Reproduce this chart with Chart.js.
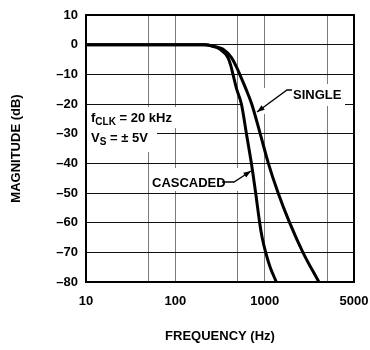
<!DOCTYPE html>
<html>
<head>
<meta charset="utf-8">
<script src="https://cdn.jsdelivr.net/npm/chart.js@4"></script>
<style>
  html, body { margin: 0; padding: 0; background: #fff; }
</style>
</head>
<body>
<canvas id="chart" width="370" height="350"></canvas>
<script>
const singleFreq = [10, 100, 214, 269, 340, 425, 474, 526, 618, 716, 891, 1100, 1415, 1902, 2679, 4044];
const singleMag = [0, 0, 0, -0.5, -1.5, -4.4, -7, -10, -15, -20, -30, -40, -50, -60, -70, -80];
const cascadedFreq = [10, 100, 214, 256, 314, 389, 417, 442, 486, 549, 625, 710, 793, 879, 937, 1026, 1152, 1351];
const cascadedMag = [0, 0, 0, -0.5, -1.5, -4.4, -7, -10, -15, -20, -30, -40, -50, -60, -65, -70, -75, -80];
const xTicks = [10, 50, 100, 500, 1000, 5000, 10000];
const xTickLabels = ["10", "", "100", "", "1000", "", "5000"];

const FONT = '"Liberation Sans", Arial, sans-serif';

const toPoints = (xs, ys) => xs.map((x, i) => ({ x: x, y: ys[i] }));

function arrow(ctx, pts) {
  ctx.beginPath();
  ctx.moveTo(pts[0][0], pts[0][1]);
  for (let i = 1; i < pts.length; i++) ctx.lineTo(pts[i][0], pts[i][1]);
  ctx.stroke();
  // arrow head at the last point
  const [x1, y1] = pts[pts.length - 2];
  const [x2, y2] = pts[pts.length - 1];
  const a = Math.atan2(y2 - y1, x2 - x1);
  ctx.beginPath();
  ctx.moveTo(x2, y2);
  ctx.lineTo(x2 - 8 * Math.cos(a - 0.35), y2 - 8 * Math.sin(a - 0.35));
  ctx.lineTo(x2 - 8 * Math.cos(a + 0.35), y2 - 8 * Math.sin(a + 0.35));
  ctx.closePath();
  ctx.fill();
}

// draws "main" then a lowered subscript, then the rest
function subText(ctx, x, y, main, sub, rest) {
  ctx.font = 'bold 13px ' + FONT;
  ctx.fillText(main, x, y);
  x += ctx.measureText(main).width;
  ctx.font = 'bold 10px ' + FONT;
  ctx.fillText(sub, x, y + 4);
  x += ctx.measureText(sub).width;
  ctx.font = 'bold 13px ' + FONT;
  ctx.fillText(rest, x, y);
}

const notes = {
  id: 'notes',
  beforeDatasetsDraw(chart) {
    const ctx = chart.ctx;
    ctx.save();
    ctx.fillStyle = '#fff';
    ctx.fillRect(87, 107, 97, 21);
    ctx.fillRect(87, 128, 70, 24);
    ctx.fillRect(283, 84, 62, 22);
    ctx.fillRect(240, 88, 50, 26);
    ctx.fillRect(150, 168, 104, 23);

    ctx.fillStyle = '#000';
    ctx.strokeStyle = '#000';
    ctx.lineWidth = 1.3;
    ctx.textBaseline = 'middle';
    ctx.textAlign = 'left';
    subText(ctx, 91, 118, 'f', 'CLK', ' = 20 kHz');
    subText(ctx, 91, 138, 'V', 'S', ' = \u00b1 5V');

    ctx.font = 'bold 13px ' + FONT;
    ctx.fillText('SINGLE', 293, 95);
    ctx.fillText('CASCADED', 152, 183);
    arrow(ctx, [[292, 90], [287, 90], [257, 112]]);
    arrow(ctx, [[222, 182], [234, 182], [251, 171]]);
    ctx.restore();
  },
  afterDraw(chart) {
    const { ctx, chartArea: a } = chart;
    ctx.save();
    ctx.strokeStyle = '#000';
    ctx.lineWidth = 2;
    ctx.strokeRect(a.left, a.top, a.right - a.left, a.bottom - a.top);
    ctx.restore();
  }
};

const chart = new Chart(document.getElementById('chart'), {
  type: 'line',
  plugins: [notes],
  data: {
    datasets: [
      { label: 'Single', data: toPoints(singleFreq, singleMag) },
      { label: 'Cascaded', data: toPoints(cascadedFreq, cascadedMag) },
    ],
  },
  options: {
    responsive: false,
    animation: false,
    devicePixelRatio: 1,
    layout: { padding: { left: 0, right: 16, top: 15, bottom: 0 } },
    elements: {
      line: { borderColor: '#000', borderWidth: 3, cubicInterpolationMode: 'monotone' },
      point: { radius: 0 },
    },
    plugins: {
      legend: { display: false },
      tooltip: { enabled: false },
    },
    scales: {
      x: {
        type: 'logarithmic',
        min: 10,
        max: 10000,
        afterBuildTicks: (scale) => { scale.ticks = xTicks.map(v => ({ value: v })); },
        afterFit: (scale) => {
          scale.height = 68;
          scale.paddingLeft = 0;
          scale.paddingRight = 0;
        },
        grid: { color: '#7a7a7a', lineWidth: 1, drawTicks: false },
        border: { display: false },
        ticks: {
          autoSkip: false,
          maxRotation: 0,
          padding: 12,
          color: '#000',
          font: { family: FONT, size: 13, weight: 'bold' },
          callback: (v) => xTickLabels[xTicks.indexOf(v)] ?? '',
        },
        title: {
          display: true,
          text: 'FREQUENCY (Hz)',
          color: '#000',
          font: { family: FONT, size: 13, weight: 'bold' },
          padding: { top: 0, bottom: 6 },
        },
      },
      y: {
        min: -80,
        max: 10,
        afterFit: (scale) => {
          scale.width = 86;
          scale.paddingTop = 0;
          scale.paddingBottom = 0;
        },
        grid: { color: '#111', lineWidth: 1, drawTicks: false },
        border: { display: false },
        ticks: {
          stepSize: 10,
          padding: 8,
          color: '#000',
          font: { family: FONT, size: 13, weight: 'bold' },
          callback: (v) => (v < 0 ? '\u2013' + Math.abs(v) : String(v)),
        },
        title: {
          display: true,
          text: 'MAGNITUDE (dB)',
          color: '#000',
          font: { family: FONT, size: 13, weight: 'bold' },
          padding: { top: 9, bottom: 0 },
        },
      },
    },
  },
});
</script>
</body>
</html>
